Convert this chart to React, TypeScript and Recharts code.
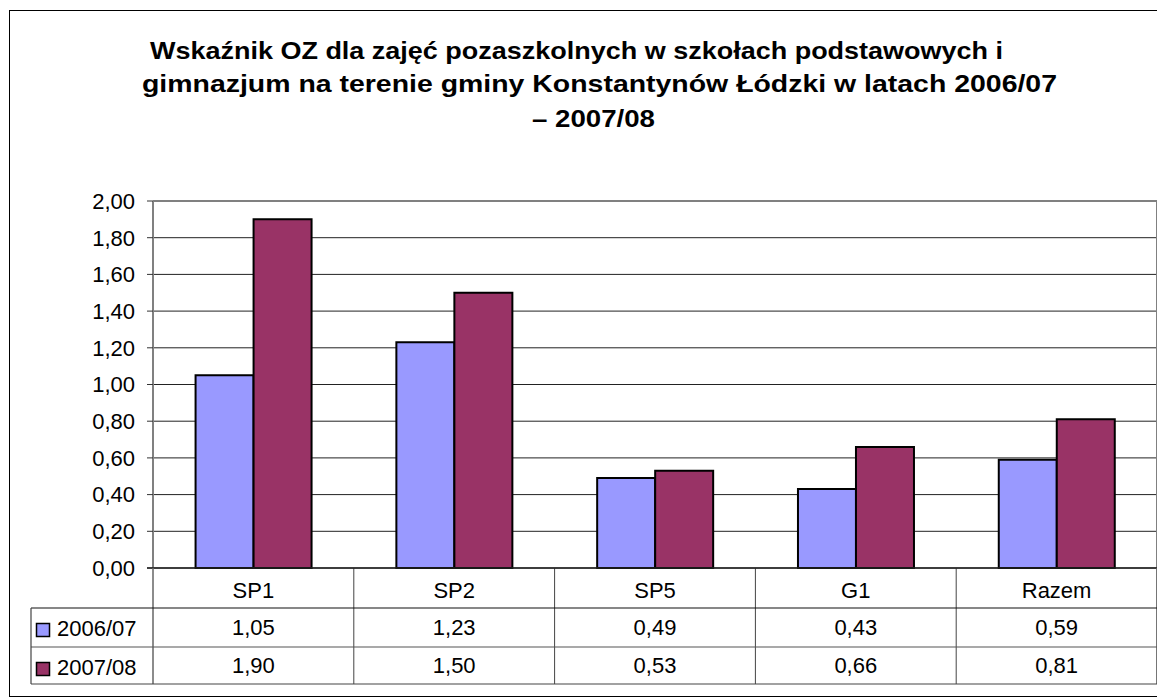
import { BarChart, Bar, XAxis, YAxis, CartesianGrid } from "recharts";

const categories = ["SP1", "SP2", "SP5", "G1", "Razem"];
const values2006 = [1.05, 1.23, 0.49, 0.43, 0.59];
const values2007 = [1.9, 1.5, 0.53, 0.66, 0.81];
const yTicks = [0, 0.2, 0.4, 0.6, 0.8, 1.0, 1.2, 1.4, 1.6, 1.8, 2.0];
const seriesNames = ["2006/07", "2007/08"];
const titleLines = [
  "Wskaźnik OZ dla zajęć pozaszkolnych w szkołach podstawowych i",
  "gimnazjum na terenie gminy Konstantynów Łódzki w latach 2006/07",
  "– 2007/08",
];

const COLORS = ["#9999FF", "#993366"];
const FONT = "'Liberation Sans', Arial, sans-serif";

const W = 1157;
const H = 691;
const PLOT_L = 145;
const PLOT_R = 1149;
const PLOT_T = 193;
const PLOT_B = 560;
const ROW1 = 600;
const ROW2 = 639;
const TABLE_B = 676;
const BAND = (PLOT_R - PLOT_L) / categories.length;

const TITLE_POS = [
  { x: 142, len: 853, y: 51 },
  { x: 134, len: 915, y: 84 },
  { x: 524, len: 123, y: 119 },
];

const fmt = (v: number) => v.toFixed(2).replace(".", ",");

const data = categories.map((c, i) => ({ name: c, a: values2006[i], b: values2007[i] }));

function CategoryTick(props: any) {
  const { x, payload, index } = props;
  const right = x + BAND / 2;
  return (
    <g fontFamily={FONT} fontSize={22} fill="#000">
      <text x={x} y={590} textAnchor="middle" fill="#000">
        {payload.value}
      </text>
      <text x={x} y={627} textAnchor="middle" fill="#000">
        {fmt(values2006[index])}
      </text>
      <text x={x} y={665} textAnchor="middle" fill="#000">
        {fmt(values2007[index])}
      </text>
      <line x1={right} x2={right} y1={PLOT_B} y2={TABLE_B} stroke="#444" strokeWidth={1} />
    </g>
  );
}

export default function App() {
  return (
    <div style={{ position: "relative", width: W, height: H, background: "#fff" }}>
      <BarChart
        width={W}
        height={H}
        data={data}
        margin={{ top: PLOT_T, right: W - PLOT_R, bottom: H - TABLE_B, left: 0 }}
        barCategoryGap="21.2%"
        barGap={0}
      >
        <CartesianGrid horizontal vertical={false} stroke="#222" strokeWidth={1} />
        <XAxis
          dataKey="name"
          height={TABLE_B - PLOT_B}
          axisLine={false}
          tickLine={false}
          interval={0}
          tick={<CategoryTick />}
        />
        <YAxis
          domain={[0, 2]}
          ticks={yTicks}
          width={PLOT_L}
          tickFormatter={fmt}
          tickSize={6}
          tickMargin={12}
          axisLine={{ stroke: "#808080", strokeWidth: 2 }}
          tickLine={{ stroke: "#333" }}
          tick={{ fontSize: 22, fill: "#000", fontFamily: FONT }}
        />
        <Bar dataKey="a" fill={COLORS[0]} stroke="#000" strokeWidth={2} isAnimationActive={false} />
        <Bar dataKey="b" fill={COLORS[1]} stroke="#000" strokeWidth={2} isAnimationActive={false} />
      </BarChart>
      <svg
        width={W}
        height={H}
        style={{ position: "absolute", left: 0, top: 0, pointerEvents: "none" }}
        fontFamily={FONT}
      >
        <rect x={1.5} y={2.5} width={1153} height={686} fill="none" stroke="#000" strokeWidth={1} />
        {titleLines.map((t, i) => (
          <text
            key={i}
            x={TITLE_POS[i].x}
            y={TITLE_POS[i].y}
            textLength={TITLE_POS[i].len}
            lengthAdjust="spacingAndGlyphs"
            fontSize={24}
            fontWeight="bold"
            fill="#000"
          >
            {t}
          </text>
        ))}
        <line x1={PLOT_L} x2={PLOT_R} y1={PLOT_T} y2={PLOT_T} stroke="#808080" strokeWidth={2} />
        <line x1={PLOT_R} x2={PLOT_R} y1={PLOT_T - 1} y2={PLOT_B} stroke="#808080" strokeWidth={2} />
        <line x1={PLOT_L - 6} x2={PLOT_R} y1={PLOT_B} y2={PLOT_B} stroke="#222" strokeWidth={1.5} />
        <line x1={PLOT_L} x2={PLOT_L} y1={PLOT_B} y2={TABLE_B} stroke="#666" strokeWidth={1.5} />
        <line x1={PLOT_R} x2={PLOT_R} y1={PLOT_B} y2={TABLE_B} stroke="#666" strokeWidth={1.5} />
        <line x1={23} x2={PLOT_R} y1={ROW1} y2={ROW1} stroke="#111" strokeWidth={1.2} />
        <line x1={23} x2={PLOT_R} y1={ROW2} y2={ROW2} stroke="#555" strokeWidth={1.2} />
        <line x1={23} x2={PLOT_R} y1={TABLE_B} y2={TABLE_B} stroke="#444" strokeWidth={1.2} />
        <line x1={23} x2={23} y1={ROW1} y2={TABLE_B} stroke="#444" strokeWidth={1.2} />
        {seriesNames.map((s, i) => {
          const top = i === 0 ? ROW1 : ROW2;
          return (
            <g key={s}>
              <rect x={28.5} y={top + 15.5} width={13} height={13} fill={COLORS[i]} stroke="#000" strokeWidth={1.5} />
              <text x={49} y={top + 28} fontSize={22} fill="#000">
                {s}
              </text>
            </g>
          );
        })}
      </svg>
    </div>
  );
}
